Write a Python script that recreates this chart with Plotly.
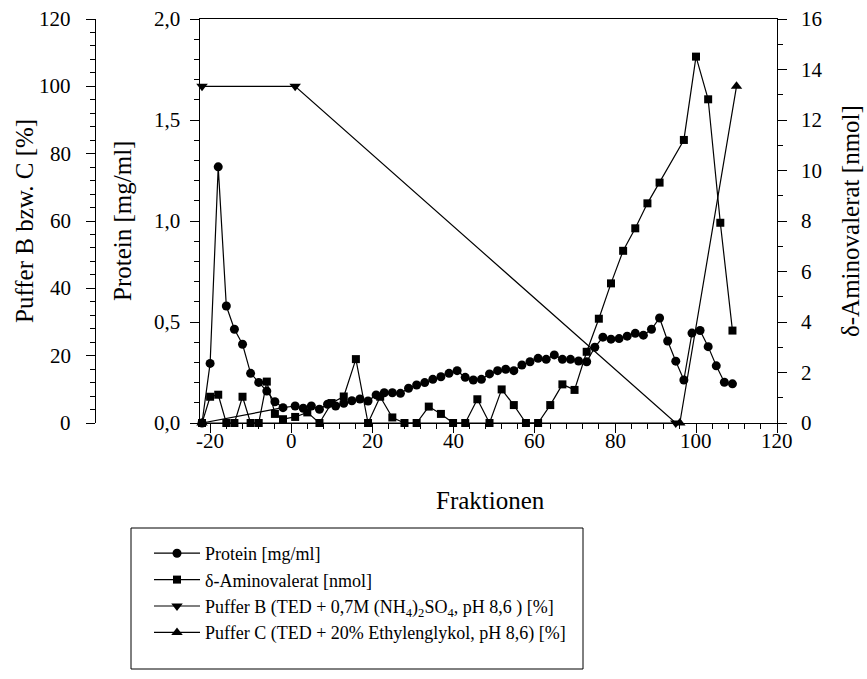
import plotly.graph_objects as go

# ---------------- data ----------------
prot_x = [-22, -20, -18, -16, -14, -12, -10, -8, -6, -4, -2,
          1, 3, 5, 7, 9, 11, 13, 15, 17, 19, 21, 23, 25, 27, 29, 31, 33, 35, 37, 39,
          41, 43, 45, 47, 49, 51, 53, 55, 57, 59, 61, 63, 65, 67, 69, 71, 73, 75, 77, 79,
          81, 83, 85, 87, 89, 91, 93, 95, 97, 99, 101, 103, 105, 107, 109]
prot_y = [0.0, 0.295, 1.268, 0.579, 0.464, 0.39, 0.246, 0.201, 0.158, 0.105, 0.076,
          0.084, 0.073, 0.084, 0.068, 0.093, 0.084, 0.098, 0.110, 0.119, 0.109, 0.139, 0.150, 0.150, 0.147, 0.172, 0.188, 0.200, 0.216, 0.229, 0.246,
          0.259, 0.226, 0.213, 0.216, 0.243, 0.259, 0.266, 0.259, 0.287, 0.303, 0.320, 0.315, 0.337, 0.315, 0.315, 0.307, 0.303, 0.375, 0.425, 0.415,
          0.418, 0.430, 0.444, 0.435, 0.464, 0.520, 0.406, 0.306, 0.213, 0.445, 0.458, 0.378, 0.283, 0.202, 0.194]

ala_x = [-22, -20, -18, -16, -14, -12, -10, -8, -6, -4, -2,
         1, 4, 7, 10, 13, 16, 19, 22, 25, 28, 31, 34, 37, 40, 43, 46, 49, 52, 55, 58,
         61, 64, 67, 70, 73, 76, 79, 82, 85, 88, 91, 97, 100, 103, 106, 109]
ala_y = [0.0, 1.04, 1.12, 0.0, 0.0, 1.04, 0.0, 0.0, 1.64, 0.36, 0.15,
         0.24, 0.42, 0.0, 0.79, 1.05, 2.53, 0.0, 1.04, 0.22, 0.0, 0.0, 0.65, 0.36, 0.0, 0.0, 0.94, 0.0, 1.33, 0.71, 0.0,
         0.0, 0.71, 1.53, 1.31, 2.82, 4.13, 5.53, 6.82, 7.71, 8.70, 9.52, 11.21, 14.51, 12.82, 7.93, 3.66]

pufB_x = [-22, 1, 95]
pufB_y = [100, 100, 0]
pufC_x = [-22, 96, 110]
pufC_y = [0, 0, 100]

# tick labels
x_tickvals = [-20, 0, 20, 40, 60, 80, 100, 120]
x_ticktext = ["-20", "0", "20", "40", "60", "80", "100", "120"]
prot_tickvals = [0.0, 0.5, 1.0, 1.5, 2.0]
prot_ticktext = ["0,0", "0,5", "1,0", "1,5", "2,0"]
ala_tickvals = [0, 2, 4, 6, 8, 10, 12, 14, 16]
ala_ticktext = ["0", "2", "4", "6", "8", "10", "12", "14", "16"]
puf_tickvals = [0, 20, 40, 60, 80, 100, 120]
puf_ticktext = ["0", "20", "40", "60", "80", "100", "120"]

FONT = "Liberation Serif, Times New Roman, serif"
W, H = 867, 679
x0p, x1p, y0p, y1p = 200, 777, 19, 423

fig = go.Figure()
line = dict(color="black", width=1.2)

fig.add_trace(go.Scatter(x=[prot_x[0], prot_x[10]], y=[prot_y[0], prot_y[10]], mode="lines",
                         line=line, showlegend=False, hoverinfo="skip", cliponaxis=False))
fig.add_trace(go.Scatter(x=prot_x, y=prot_y, mode="lines+markers", name="Protein [mg/ml]",
                         line=line, marker=dict(symbol="circle", size=9, color="black"),
                         cliponaxis=False))
fig.add_trace(go.Scatter(x=ala_x, y=ala_y, mode="lines+markers", name="δ-Aminovalerat [nmol]",
                         line=line, marker=dict(symbol="square", size=8, color="black"),
                         yaxis="y2", cliponaxis=False))
fig.add_trace(go.Scatter(x=pufB_x, y=pufB_y, mode="lines+markers",
                         name="Puffer B (TED + 0,7M (NH<sub>4</sub>)<sub>2</sub>SO<sub>4</sub>, pH 8,6 ) [%]",
                         line=line, marker=dict(symbol="triangle-down", size=10, color="black"),
                         yaxis="y3", cliponaxis=False))
fig.add_trace(go.Scatter(x=pufC_x, y=pufC_y, mode="lines+markers",
                         name="Puffer C (TED + 20% Ethylenglykol, pH 8,6) [%]",
                         line=line, marker=dict(symbol="triangle-up", size=10, color="black"),
                         yaxis="y3", cliponaxis=False))

ydom = [1 - y1p / H, 1 - y0p / H]
tickfont = dict(family=FONT, size=21, color="black")
titlefont = dict(family=FONT, size=25, color="black")
common = dict(showgrid=False, zeroline=False, showline=True, linecolor="black", linewidth=1,
              ticks="outside", ticklen=9, tickwidth=1, tickcolor="black",
              showticklabels=False, automargin=False)

def minor(dt):
    return dict(tickmode="linear", tick0=0, dtick=dt, ticks="outside", ticklen=5, tickcolor="black")

annotations = []
for v, t in zip(x_tickvals, x_ticktext):
    annotations.append(dict(text=t, xref="x", yref="paper", x=v, y=1 - 441 / H,
                            xanchor="center", yanchor="middle", showarrow=False, font=tickfont))
for v, t in zip(prot_tickvals, prot_ticktext):
    annotations.append(dict(text=t, xref="paper", yref="y", x=182 / W, y=v,
                            xanchor="right", yanchor="middle", showarrow=False, font=tickfont))
for v, t in zip(ala_tickvals, ala_ticktext):
    annotations.append(dict(text=t, xref="paper", yref="y2", x=799 / W, y=v,
                            xanchor="left", yanchor="middle", showarrow=False, font=tickfont))
for v, t in zip(puf_tickvals, puf_ticktext):
    annotations.append(dict(text=t, xref="paper", yref="y3", x=73 / W, y=v,
                            xanchor="right", yanchor="middle", showarrow=False, font=tickfont))

ymid = 1 - ((y0p + y1p) / 2) / H
annotations += [
    dict(text="Puffer B bzw. C [%]", textangle=-90, xref="paper", yref="paper",
         x=25 / W, y=ymid, xanchor="center", yanchor="middle", showarrow=False, font=titlefont),
    dict(text="Protein [mg/ml]", textangle=-90, xref="paper", yref="paper",
         x=123 / W, y=ymid, xanchor="center", yanchor="middle", showarrow=False, font=titlefont),
    dict(text="δ-Aminovalerat [nmol]", textangle=-90, xref="paper", yref="paper",
         x=851 / W, y=ymid, xanchor="center", yanchor="middle", showarrow=False, font=titlefont),
    dict(text="Fraktionen", xref="paper", yref="paper",
         x=((x0p + x1p) / 2 + 2) / W, y=1 - 500 / H, xanchor="center", yanchor="middle",
         showarrow=False, font=titlefont),
]

fig.update_layout(
    width=W, height=H, margin=dict(l=0, r=0, t=0, b=0, autoexpand=False),
    paper_bgcolor="white", plot_bgcolor="white",
    font=dict(family=FONT, color="black"),
    xaxis=dict(domain=[x0p / W, x1p / W], range=[-22.5, 120], tickmode="array",
               tickvals=x_tickvals, mirror=True, minor=minor(4), **common),
    yaxis=dict(domain=ydom, range=[0, 2.0], tickmode="array", tickvals=prot_tickvals,
               minor=minor(0.1), **common),
    yaxis2=dict(domain=ydom, range=[0, 16], tickmode="array", tickvals=ala_tickvals,
                overlaying="y", side="right", anchor="x", minor=minor(1), **common),
    yaxis3=dict(domain=ydom, range=[0, 120], tickmode="array", tickvals=puf_tickvals,
                overlaying="y", side="left", anchor="free", position=95 / W,
                minor=minor(4), **common),
    legend=dict(x=149 / W, y=1 - 535 / H, xanchor="left", yanchor="top",
                bgcolor="rgba(0,0,0,0)", borderwidth=0, itemwidth=46,
                font=dict(family=FONT, size=18, color="black"), tracegroupgap=0),
    shapes=[dict(type="rect", xref="paper", yref="paper",
                 x0=131 / W, x1=583 / W, y0=1 - 669 / H, y1=1 - 528 / H,
                 line=dict(color="black", width=1), fillcolor="rgba(0,0,0,0)")],
    annotations=annotations,
)

fig.write_html("out.html")
